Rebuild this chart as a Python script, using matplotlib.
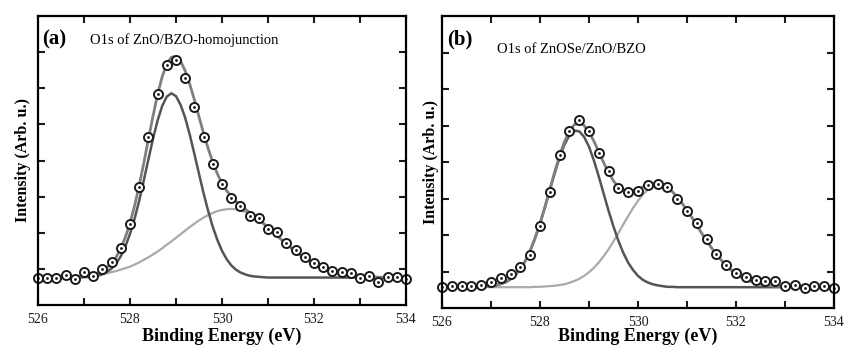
import numpy as np
import matplotlib
matplotlib.use("Agg")
import matplotlib.pyplot as plt

plt.rcParams['font.family'] = ['Liberation Serif', 'DejaVu Serif']

# measured points, 526 -> 534 eV every 0.2 eV
energy = [526.0 + 0.2 * i for i in range(41)]
int_a = [0.76, 0.74, 0.74, 0.82, 0.73, 0.90, 0.79, 0.99, 1.20, 1.57,
         2.24, 3.28, 4.64, 5.84, 6.65, 6.77, 6.28, 5.48, 4.66, 3.90,
         3.35, 2.95, 2.74, 2.47, 2.40, 2.11, 2.01, 1.73, 1.51, 1.32,
         1.15, 1.06, 0.94, 0.90, 0.88, 0.76, 0.80, 0.63, 0.77, 0.78, 0.71]
int_b = [0.57, 0.59, 0.59, 0.59, 0.64, 0.70, 0.81, 0.93, 1.12, 1.45,
         2.25, 3.18, 4.20, 4.86, 5.14, 4.84, 4.25, 3.75, 3.29, 3.18,
         3.20, 3.36, 3.40, 3.32, 2.98, 2.65, 2.34, 1.90, 1.47, 1.18,
         0.95, 0.85, 0.77, 0.75, 0.73, 0.61, 0.63, 0.54, 0.61, 0.59, 0.54]

# fitted curves, 526 -> 534 eV every 0.1 eV (values in 1/100 arb. u.)
fit_energy = [526.0 + 0.1 * i for i in range(81)]
fit_a1 = [76,76,76,76,76,76,76,76,76,76,77,78,79,81,85,92,101,115,135,162,197,239,289,345,403,460,511,551,577,586,578,554,518,471,418,363,309,260,216,180,150,127,110,98,90,85,81,79,78,77,76,76,76,76,76,76,76,76,76,76,76,76,76,76,76,76,76,76,76,76,76,76,76,76,76,76,76,76,76,76,76]
fit_a2 = [76,76,76,77,77,77,77,78,78,79,80,81,82,84,86,88,91,94,98,102,106,112,118,125,132,140,148,157,167,176,186,196,206,216,225,234,242,249,255,260,263,265,266,265,262,258,251,244,235,225,214,203,191,180,168,158,147,138,129,121,114,107,102,97,93,89,87,84,82,81,80,79,78,78,77,77,77,76,76,76,76]
fit_a = [76,76,76,77,77,77,77,78,79,80,81,83,85,89,95,104,116,133,157,188,227,275,331,393,459,523,583,632,668,686,688,675,648,611,568,521,475,433,395,363,337,317,300,287,276,266,256,247,236,226,214,203,191,180,169,158,147,138,129,121,114,107,102,97,93,89,87,84,82,81,80,79,78,78,77,77,77,76,76,76,76]
fit_b1 = [57,57,57,57,57,57,57,57,58,59,60,62,66,71,79,91,107,129,157,191,231,275,323,369,412,448,473,486,484,469,442,404,360,313,266,223,184,151,124,104,88,77,70,65,62,60,58,58,57,57,57,57,57,57,57,57,57,57,57,57,57,57,57,57,57,57,57,57,57,57,57,57,57,57,57,57,57,57,57,57,57]
fit_b2 = [57,57,57,57,57,57,57,57,57,57,57,57,57,57,57,57,57,57,57,58,58,59,60,61,63,65,69,74,80,88,98,110,125,142,161,183,205,229,252,274,294,311,324,333,336,334,328,318,304,287,268,248,226,205,184,165,147,131,116,104,94,85,78,73,69,65,63,61,60,59,58,58,58,57,57,57,57,57,57,57,57]
fit_b = [57,57,57,57,57,57,57,57,58,59,60,62,66,71,79,91,107,129,157,192,232,277,325,373,418,456,485,502,507,500,483,457,428,398,371,348,332,322,319,321,325,332,337,340,340,337,329,319,304,287,268,248,226,205,184,165,147,131,116,104,94,85,78,73,69,65,63,61,60,59,58,58,58,57,57,57,57,57,57,57,57]

panels = ['(a)', '(b)']
titles = ['O1s of ZnO/BZO-homojunction', 'O1s of ZnOSe/ZnO/BZO']

fig = plt.figure(figsize=(8.45, 3.45), dpi=100)
axa = fig.add_axes([38/845, 1-305/345, 368/845, 289/345])
axb = fig.add_axes([442/845, 1-308/345, 392/845, 292/345])

for ax, y, c1, c2, ct, lab, title, ty in [
        (axa, int_a, fit_a1, fit_a2, fit_a, panels[0], titles[0], 0.915),
        (axb, int_b, fit_b1, fit_b2, fit_b, panels[1], titles[1], 0.885)]:
    ax.plot(fit_energy, np.array(c2) / 100, color='#aaaaaa', lw=1.6)
    ax.plot(fit_energy, np.array(c1) / 100, color='#555555', lw=1.8)
    ax.plot(fit_energy, np.array(ct) / 100, color='#808080', lw=2.0)
    ax.plot(energy, y, 'o', ms=6.5, mfc='white', mec='#1a1a1a', mew=1.4, clip_on=False)
    ax.plot(energy, y, '.', ms=2, color='#1a1a1a', clip_on=False)
    ax.set_xlim(526, 534)
    ax.set_ylim(0, 8)
    ax.set_xticks([526, 528, 530, 532, 534])
    ax.set_xticks([527, 529, 531, 533], minor=True)
    ax.set_yticks([1, 2, 3, 4, 5, 6, 7])
    ax.set_yticklabels([])
    ax.tick_params(which='both', direction='in', top=True, right=True,
                   length=5, width=1.5, labelsize=10, colors='#1a1a1a', pad=6)
    for s in ax.spines.values():
        s.set_linewidth(1.6)
    ax.set_xlabel('Binding Energy (eV)', fontsize=13, fontweight='bold')
    ax.set_ylabel('Intensity (Arb. u.)', fontsize=11.5, fontweight='bold')
    ax.text(0.012, 0.955, lab, transform=ax.transAxes, fontsize=15,
            fontweight='bold', va='top')
    ax.text(0.14, ty, title, transform=ax.transAxes, fontsize=10.5, va='center')

axa.xaxis.set_label_coords(0.5, -0.08)
axb.xaxis.set_label_coords(0.5, -0.068)
axa.yaxis.set_label_coords(-0.02, 0.5)
axb.yaxis.set_label_coords(-0.008, 0.5)

fig.savefig('out.png', dpi=100)
